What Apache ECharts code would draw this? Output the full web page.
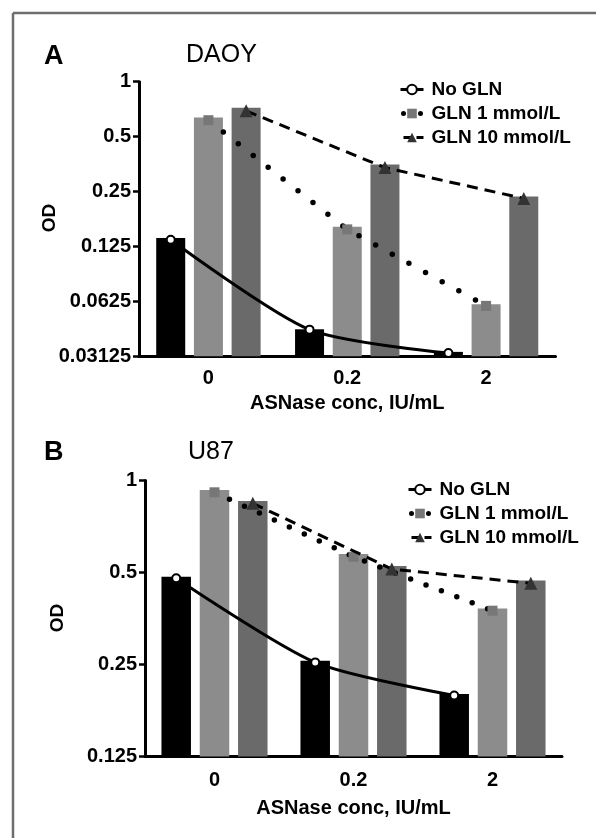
<!DOCTYPE html>
<html>
<head>
<meta charset="utf-8">
<script src="https://cdn.jsdelivr.net/npm/echarts@6/dist/echarts.min.js"></script>
<style>
html,body{margin:0;padding:0;background:#fff;}
#chart{width:596px;height:838px;}
</style>
</head>
<body>
<div id="chart"></div>
<script>
// ---- data ----
const categories = ['0', '0.2', '2'];
const seriesNames = ['No GLN', 'GLN 1 mmol/L', 'GLN 10 mmol/L'];

const daoyBarNoGln = [0.139, 0.0439, 0.033];
const daoyBarGln1 = [0.637, 0.160, 0.0602];
const daoyBarGln10 = [0.719, 0.351, 0.235];
const daoyLineNoGln = [0.136, 0.0437, 0.0325];
const daoyLineGln1 = [0.615, 0.155, 0.059];
const daoyLineGln10 = [0.692, 0.338, 0.229];

const u87BarNoGln = [0.484, 0.257, 0.200];
const u87BarGln1 = [0.931, 0.575, 0.381];
const u87BarGln10 = [0.857, 0.525, 0.471];
const u87LineNoGln = [0.479, 0.254, 0.198];
const u87LineGln1 = [0.915, 0.563, 0.375];
const u87LineGln10 = [0.842, 0.513, 0.461];

const daoyTicks = ['1', '0.5', '0.25', '0.125', '0.0625', '0.03125'];
const u87Ticks = ['1', '0.5', '0.25', '0.125'];

// ---- layout ----
const FONT = "'Liberation Sans', Arial, Helvetica, sans-serif";
const grids = [
  { left: 139, top: 81.7, width: 416.5, height: 274.5 },
  { left: 145, top: 480.5, width: 417, height: 276 }
];
const BAR_W = [29, 29.5];
const BAR_GAP_PX = [8.7, 8.8];
const X_LABEL_MARGIN = [12, 14];
const X_NAME_GAP = [37, 42];
const barColors = ['#000000', '#8c8c8c', '#6a6a6a'];

function tickFmt(ticks) {
  return function (v) {
    let best = ticks[0], d = Infinity;
    ticks.forEach(t => { const dd = Math.abs(Math.log2(+t) - Math.log2(v)); if (dd < d) { d = dd; best = t; } });
    return best;
  };
}

const option = {
  animation: false,
  backgroundColor: '#fff',
  textStyle: { fontFamily: FONT },
  grid: grids.map(g => Object.assign({ containLabel: false }, g)),
  xAxis: [],
  yAxis: [],
  legend: [],
  series: [],
  graphic: []
};

const panels = [
  { ticks: daoyTicks, bars: [daoyBarNoGln, daoyBarGln1, daoyBarGln10], lines: [daoyLineNoGln, daoyLineGln1, daoyLineGln10], dotGap: 19 },
  { ticks: u87Ticks, bars: [u87BarNoGln, u87BarGln1, u87BarGln10], lines: [u87LineNoGln, u87LineGln1, u87LineGln10], dotGap: 16.5 }
];

panels.forEach((p, gi) => {
  const catX = option.xAxis.length;
  option.xAxis.push({
    gridIndex: gi, type: 'category', data: categories,
    axisLine: { onZero: false, lineStyle: { color: '#000', width: 3 } },
    axisTick: { alignWithLabel: true, length: 6, lineStyle: { color: '#000', width: 2.5 } },
    axisLabel: { color: '#000', fontSize: 20, fontWeight: 'bold', margin: X_LABEL_MARGIN[gi], fontFamily: FONT },
    name: 'ASNase conc, IU/mL', nameLocation: 'middle', nameGap: X_NAME_GAP[gi],
    nameTextStyle: { color: '#000', fontSize: 20, fontWeight: 'bold', fontFamily: FONT }
  });
  const valX = option.xAxis.length;
  option.xAxis.push({ gridIndex: gi, type: 'value', min: -0.5, max: 2.5, show: false });
  const yIdx = option.yAxis.length;
  const ymax = +p.ticks[0], ymin = +p.ticks[p.ticks.length - 1];
  option.yAxis.push({
    gridIndex: gi, type: 'log', logBase: 2, min: ymin, max: ymax, startValue: ymin,
    axisLine: { show: true, onZero: false, lineStyle: { color: '#000', width: 3 } },
    axisTick: { show: true, length: 6, lineStyle: { color: '#000', width: 2.5 } },
    splitLine: { show: false },
    axisLabel: { color: '#000', fontSize: 20, fontWeight: 'bold', margin: 8, formatter: tickFmt(p.ticks), fontFamily: FONT }
  });

  const catWidth = grids[gi].width / categories.length;
  const offset = (BAR_W[gi] + BAR_GAP_PX[gi]) / catWidth;

  p.bars.forEach((arr, si) => {
    option.series.push({
      type: 'bar', name: seriesNames[si] + ' bar', xAxisIndex: catX, yAxisIndex: yIdx,
      data: arr, barWidth: BAR_W[gi], barGap: (BAR_GAP_PX[gi] / BAR_W[gi] * 100).toFixed(1) + '%',
      itemStyle: { color: barColors[si] }, z: 2
    });
  });

  const lineStyles = [
    { type: 'solid', width: 3, color: '#000' },
    { type: [0, p.dotGap], width: 5.5, color: '#000', cap: 'round' },
    { type: [11, 7], width: 3, color: '#000' }
  ];
  const symbols = [
    { symbol: 'circle', symbolSize: 8, itemStyle: { color: '#fff', borderColor: '#000', borderWidth: 2 } },
    { symbol: 'rect', symbolSize: 10, itemStyle: { color: '#777' } },
    { symbol: 'triangle', symbolSize: 13, itemStyle: { color: '#333' } }
  ];
  p.lines.forEach((arr, si) => {
    option.series.push(Object.assign({
      type: 'line', name: seriesNames[si], xAxisIndex: valX, yAxisIndex: yIdx,
      data: arr.map((v, ci) => [ci + (si - 1) * offset, v]),
      lineStyle: lineStyles[si], smooth: si === 0 ? 0.25 : false,
      showSymbol: true, z: 5 + si
    }, symbols[si]));
  });

  const legendLine = [
    { type: 'solid', width: 3, color: '#000' },
    { type: [0, 17], width: 5, color: '#000', cap: 'round', dashOffset: -3 },
    { type: [8, 5], width: 3, color: '#000' }
  ];
  option.legend.push({
    orient: 'vertical', left: gi === 0 ? 393 : 401, top: gi === 0 ? 75 : 475,
    data: seriesNames.map((n, i) => ({ name: n, lineStyle: legendLine[i] })),
    itemWidth: 23, itemHeight: 12, itemGap: 5,
    selectedMode: false,
    textStyle: { color: '#000', fontSize: 19, fontWeight: 'bold', fontFamily: FONT, padding: [0, 0, 0, 3] }
  });
});

option.graphic = [
  { type: 'line', shape: { x1: 13, y1: 13, x2: 600, y2: 13 }, style: { stroke: '#6e6e6e', lineWidth: 2.5 } },
  { type: 'line', shape: { x1: 13, y1: 13, x2: 13, y2: 840 }, style: { stroke: '#6e6e6e', lineWidth: 2.5 } },
  { type: 'text', x: 44, y: 57, style: { text: 'A', font: 'bold 27px ' + FONT, fill: '#000', verticalAlign: 'middle', align: 'left' } },
  { type: 'text', x: 186, y: 55, style: { text: 'DAOY', font: '25px ' + FONT, fill: '#000', verticalAlign: 'middle', align: 'left' } },
  { type: 'text', x: 50, y: 218, rotation: Math.PI / 2, style: { text: 'OD', font: 'bold 19px ' + FONT, fill: '#000', verticalAlign: 'middle', align: 'center' } },
  { type: 'text', x: 44, y: 453, style: { text: 'B', font: 'bold 27px ' + FONT, fill: '#000', verticalAlign: 'middle', align: 'left' } },
  { type: 'text', x: 188, y: 452, style: { text: 'U87', font: '25px ' + FONT, fill: '#000', verticalAlign: 'middle', align: 'left' } },
  { type: 'text', x: 58, y: 618, rotation: Math.PI / 2, style: { text: 'OD', font: 'bold 19px ' + FONT, fill: '#000', verticalAlign: 'middle', align: 'center' } }
];

const chart = echarts.init(document.getElementById('chart'), null, { renderer: 'canvas' });
chart.setOption(option);
</script>
</body>
</html>
